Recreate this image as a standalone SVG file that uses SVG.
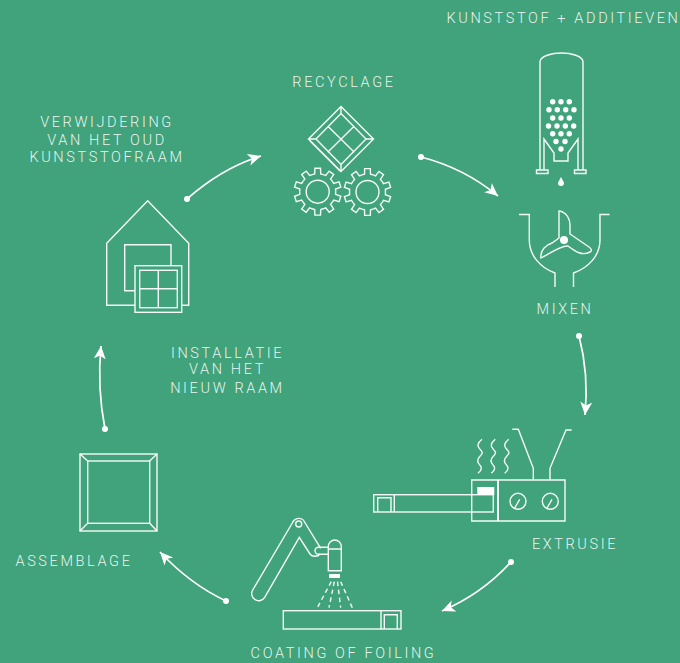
<svg xmlns="http://www.w3.org/2000/svg" xmlns:xlink="http://www.w3.org/1999/xlink" width="680" height="663" viewBox="0 0 680 663">
<style>
.l{fill:none;stroke:#fff;stroke-width:1.4;stroke-linejoin:miter;opacity:.95}
.w{fill:#fff;stroke:none}
.c{fill:none;stroke:#fff;stroke-width:1.7}
.d{fill:#fff}
text{fill:#fff;fill-opacity:.9;font-family:Roboto,"Liberation Sans",sans-serif;font-weight:300;font-size:14.5px;letter-spacing:2.62px;text-anchor:middle}
</style>
<defs>
<marker id="a" markerUnits="userSpaceOnUse" markerWidth="16" markerHeight="14" refX="13" refY="6" orient="auto"><path d="M0,0 L13,6 L0,12 L3.5,6 Z" fill="#fff"/></marker>
<path id="t" class="l" d="M-5.56,-17.1 L-3,-17.8 L-2.8,-23.4 L2.8,-23.4 L3,-17.8 L5.56,-17.1"/>
<path id="wv" class="l" d="M2,0 C-3,4 -3,7 0,10 C3,13 3,14 0,17 C-3,20 -3,23 0,26 C2,28 2,31 -2,34"/>
<g id="gear"><circle class="l" r="11.5"/><use xlink:href="#t"/><use xlink:href="#t" transform="rotate(36)"/><use xlink:href="#t" transform="rotate(72)"/><use xlink:href="#t" transform="rotate(108)"/><use xlink:href="#t" transform="rotate(144)"/><use xlink:href="#t" transform="rotate(180)"/><use xlink:href="#t" transform="rotate(216)"/><use xlink:href="#t" transform="rotate(252)"/><use xlink:href="#t" transform="rotate(288)"/><use xlink:href="#t" transform="rotate(324)"/></g>
</defs>
<rect width="680" height="663" fill="#41a37c"/>
<g id="connectors">
<path class="c" marker-end="url(#a)" d="M187,199 Q222,168 261,156"/><circle class="d" cx="187" cy="199" r="3"/>
<path class="c" marker-end="url(#a)" d="M421,157 Q464,168 498,196"/><circle class="d" cx="421" cy="157" r="3"/>
<path class="c" marker-end="url(#a)" d="M579,336 Q589,374 585,415"/><circle class="d" cx="579" cy="336" r="3"/>
<path class="c" marker-end="url(#a)" d="M511,562 Q482,594 442,611"/><circle class="d" cx="511" cy="562" r="3"/>
<path class="c" marker-end="url(#a)" d="M226,601 Q190,584 160,552"/><circle class="d" cx="226" cy="601" r="3"/>
<path class="c" marker-end="url(#a)" d="M105,429 Q97,388 101,346"/><circle class="d" cx="105" cy="429" r="3"/>
</g>
<g id="silo">
<text x="563.5" y="23">KUNSTSTOF + ADDITIEVEN</text>
<path class="l" d="M536.5,173.5 H548 V170 H536.5 Z M574.5,173.5 H586 V170 H574.5 Z"/>
<path class="l" d="M540,170 V62 C540,56 552,53 561.5,53 C571,53 583,56 583,62 V170"/>
<path class="l" d="M544,170 V139 L554,153 V161 H568 V153 L578,139 V170"/>
<g class="d"><circle cx="552.7" cy="101.7" r="2.7"/><circle cx="561" cy="101.7" r="2.7"/><circle cx="569.3" cy="101.7" r="2.7"/><circle cx="549" cy="109.7" r="2.7"/><circle cx="557.3" cy="109.7" r="2.7"/><circle cx="565.7" cy="109.7" r="2.7"/><circle cx="574" cy="109.7" r="2.7"/><circle cx="552.7" cy="118" r="2.7"/><circle cx="561" cy="118" r="2.7"/><circle cx="569.3" cy="118" r="2.7"/><circle cx="548.5" cy="126" r="2.7"/><circle cx="557" cy="126" r="2.7"/><circle cx="565.3" cy="126" r="2.7"/><circle cx="573.7" cy="126" r="2.7"/><circle cx="552.7" cy="133.7" r="2.7"/><circle cx="561" cy="133.7" r="2.7"/><circle cx="569.3" cy="133.7" r="2.7"/><circle cx="556" cy="141.5" r="2.7"/><circle cx="565" cy="141.5" r="2.7"/><circle cx="561" cy="149" r="2.7"/></g>
<path class="w" d="M561,177 C559,181 558,182 558,183 A3,3 0 0 0 564,183 C564,182 563,181 561,177 Z"/>
</g>
<g id="mixen">
<path class="l" d="M519,214.5 H529.3 V240 C529.3,256 541,268 555,273 V287"/>
<path class="l" d="M609.5,214.5 H600 V240 C600,256 588,268 573.5,273 V287"/>
<path class="l" d="M559,211 C566,212 570,218 570,226 V234 L589,247 C592,249 592,251 590,252 C582,256 576,252 568,246 C562,245 552,252 541,258 C540,250 546,245 552,243 L559,238 Z"/>
<circle class="d" cx="564" cy="240" r="4"/>
<text x="565" y="314">MIXEN</text>
</g>
<g id="recyclage">
<text x="344" y="87">RECYCLAGE</text>
<path class="l" d="M341,106.5 L373.5,139 L341,171.5 L308.5,139 Z M341,113.5 L366,139 L341,164.5 L316,139 Z M341,106.5 V113.5 M373.5,139 H366 M341,171.5 V164.5 M308.5,139 H316 M327.7,126 L354.3,152.3 M354.3,126 L327.7,152.3 M310,141 L340,171"/>
<use xlink:href="#gear" x="317.7" y="191.7"/>
<use xlink:href="#gear" x="367.5" y="192"/>
</g>
<g id="extrusie">
<path class="l" d="M471.7,480 H565 V521 H471.7 Z M512.3,429.3 H518.3 L533.3,468.3 V480 M571.7,430 H566 L550,468.3 V480"/>
<path class="l" style="stroke-width:2" d="M498,480 V521"/>
<circle class="l" cx="518" cy="501.3" r="8"/><path class="l" d="M514.7,508 L519.7,499.3"/>
<circle class="l" cx="550.3" cy="501.3" r="8"/><path class="l" d="M547,508 L552,499.3"/>
<rect class="w" x="477.3" y="487" width="17" height="8"/>
<rect class="l" x="373.7" y="494.7" width="119.6" height="17.3"/>
<path class="l" d="M394.3,494.7 V512 M377.7,512 V497.7 H391 V512"/>
<use xlink:href="#wv" x="480" y="439.3"/><use xlink:href="#wv" x="493.3" y="439.3"/><use xlink:href="#wv" x="506.7" y="439.3"/>
<text x="575" y="549">EXTRUSIE</text>
</g>
<g id="coating">
<path class="l" d="M292.3,523 L252.7,590 A7,7 0 0 0 264.7,597.3 L299.3,537.3 L310,554 C312,557 318,557 320,554 M303.3,520 L320.7,548.3 M292.3,523 A7,7 0 0 1 303.3,520"/>
<circle class="l" cx="298.7" cy="524" r="3"/>
<path class="l" d="M328.3,547.3 H318.5 A3.5,3.5 0 0 0 318.5,554.3 H328.3"/>
<path class="l" d="M328.3,570.7 V546.5 A6.5,6.5 0 0 1 341.3,546.5 V570.7 Z M328.3,549 H341.3"/>
<rect class="w" x="329" y="574" width="11" height="4"/>
<path class="l" stroke-dasharray="4.5 3.5" d="M331.3,581.7 L317.3,607.7 M334.3,581.7 L329,607.7 M337.5,581.7 L340.7,607.7 M340.7,581.7 L352.3,607.7"/>
<rect class="l" x="283.3" y="610.7" width="117.7" height="18.3"/>
<path class="l" d="M381,610.7 V629 M384.3,629 V614.7 H397.3 V629"/>
<text x="343.5" y="658">COATING OF FOILING</text>
</g>
<g id="assemblage">
<rect class="l" x="80" y="454" width="77" height="77"/>
<rect class="l" x="87.7" y="461" width="62" height="62.3"/>
<path class="l" d="M80,454 L87.7,461 M157,454 L149.7,461 M80,531 L87.7,523.3 M157,531 L149.7,523.3"/>
<text x="74" y="566">ASSEMBLAGE</text>
</g>
<g id="installatie">
<path class="l" d="M135,305.3 H106.7 V243.3 L147.7,200.7 L188.7,243.3 V305.3 H181.7"/>
<path class="l" d="M135,290.7 H124.7 V244.7 H171 V265.7"/>
<rect class="l" x="135" y="265.7" width="46.7" height="46.6"/>
<rect class="l" x="139.7" y="270.3" width="37.6" height="37.4"/>
<path class="l" d="M158.3,270.3 V307.7 M139.7,288.7 H177.3"/>
<text x="227.5" y="358">INSTALLATIE</text><text x="227.5" y="374">VAN HET</text><text x="227.5" y="392.500">NIEUW RAAM</text>
</g>
<g id="verwijdering">
<text x="107" y="127">VERWIJDERING</text><text x="107" y="145">VAN HET OUD</text><text x="107" y="162">KUNSTSTOFRAAM</text>
</g>
</svg>
